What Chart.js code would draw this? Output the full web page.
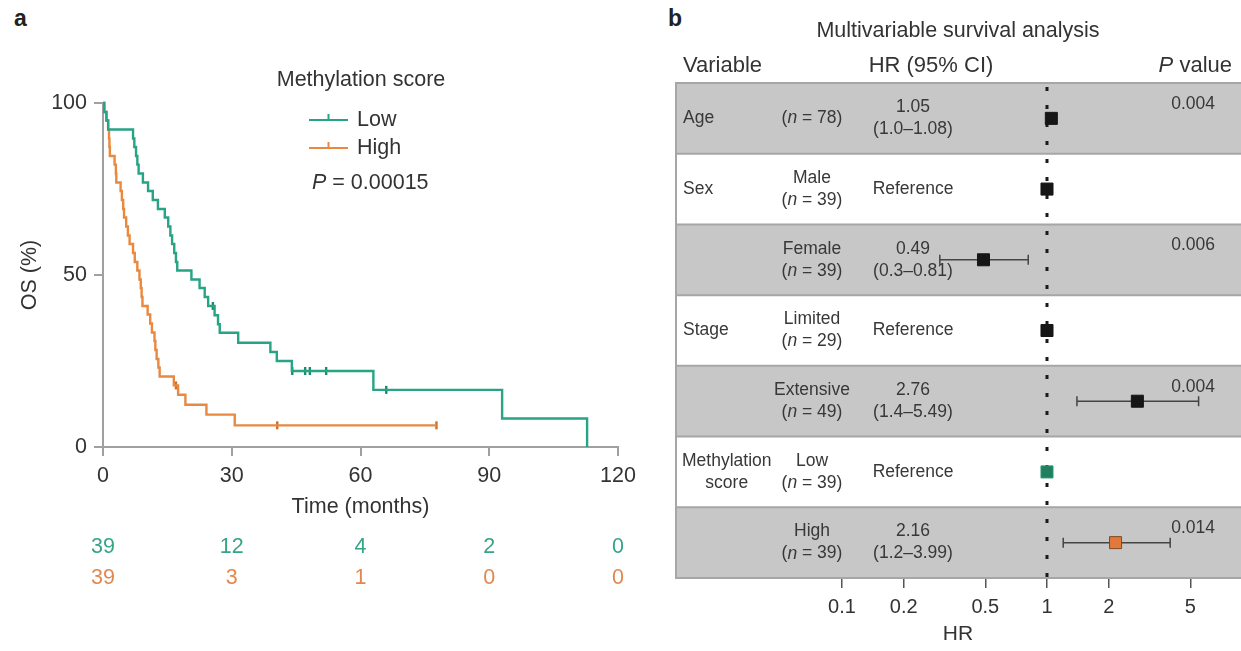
<!DOCTYPE html>
<html>
<head>
<meta charset="utf-8">
<script src="https://cdn.jsdelivr.net/npm/chart.js@4.4.1/dist/chart.umd.min.js"></script>
<style>
  html, body { margin: 0; padding: 0; background: #fff; overflow: hidden; }
  body { width: 1241px; height: 651px; position: relative; font-family: 'Liberation Sans', Arial, sans-serif; }
  .tag { position: absolute; font-weight: bold; font-size: 23px; line-height: 26px; color: #222; }
  #kmChart { position: absolute; left: 0; top: 0; }
  #forestChart { position: absolute; left: 675px; top: 0; }
</style>
</head>
<body>
<div class="tag" style="left:14px; top:5px;">a</div>
<div class="tag" style="left:668px; top:5px;">b</div>
<canvas id="kmChart" width="660" height="651"></canvas>
<canvas id="forestChart" width="566" height="651"></canvas>
<script>
var FONT = "'Liberation Sans', Arial, sans-serif";
var TEXT = '#333333';
var AXIS = '#a0a0a0';
var GREEN = '#27a385';
var ORANGE = '#e8893f';
var FS_A = 21.5;

// panel a: overall survival (%) by time (months)
var lowTimes = [0, 0.3, 0.8, 1.2, 7.0, 7.3, 7.7, 8.0, 8.3, 9.3, 10.5, 11.6, 12.8, 14.4, 15.2, 15.7, 16.1, 16.6, 17.0, 17.3,
  20.6, 22.5, 23.7, 24.5, 26.0, 26.8, 27.2, 31.5, 39.0, 40.5, 44.0, 63.0, 93.0, 112.8];
var lowSurv = [100, 97.4, 94.9, 92.3, 89.7, 87.2, 84.6, 82.1, 79.5, 76.9, 74.4, 71.8, 69.2, 66.7, 64.1, 61.5, 59.0, 56.4, 53.8, 51.3,
  48.7, 46.2, 43.6, 41.0, 38.3, 35.7, 33.2, 30.3, 27.6, 25.0, 22.1, 16.6, 8.3, 0];
var lowCensorTimes = [25.6, 44.1, 47.1, 48.2, 52.0, 66.0];
var lowCensorSurv = [41.0, 22.1, 22.1, 22.1, 22.1, 16.6];

var highTimes = [0, 0.3, 0.8, 1.2, 1.4, 1.5, 1.6, 2.7, 3.0, 3.1, 4.1, 4.4, 4.7, 4.9, 5.4, 5.8, 6.2, 7.0, 7.4, 8.0, 8.5,
  8.8, 9.0, 9.2, 10.4, 11.0, 11.4, 12.0, 12.2, 12.5, 12.9, 13.2, 16.5, 17.5, 19.2, 24.1, 30.7, 77.7];
var highSurv = [100, 97.4, 94.9, 92.3, 89.7, 87.2, 84.6, 82.1, 79.5, 76.9, 74.4, 71.8, 69.2, 66.7, 64.1, 61.5, 59.0, 56.4, 53.8, 51.3, 48.7,
  46.2, 43.6, 41.0, 38.5, 35.9, 33.3, 30.8, 28.2, 25.6, 23.1, 20.5, 17.9, 15.2, 12.3, 9.4, 6.3, 6.3];
var highCensorTimes = [17.0, 40.6, 77.7];
var highCensorSurv = [17.9, 6.3, 6.3];

var riskTimes = [0, 30, 60, 90, 120];
var lowAtRisk = [39, 12, 4, 2, 0];
var highAtRisk = [39, 3, 1, 0, 0];
var kmPValue = '0.00015';

// panel b: multivariable Cox model
var varLabels = ['Age', 'Sex', '', 'Stage', '', 'Methylation\nscore', ''];
var groupLabels = ['', 'Male', 'Female', 'Limited', 'Extensive', 'Low', 'High'];
var groupN = [78, 39, 39, 29, 49, 39, 39];
var hrValues = [1.05, 1, 0.49, 1, 2.76, 1, 2.16];
var ciLow = [1.0, null, 0.3, null, 1.4, null, 1.2];
var ciHigh = [1.08, null, 0.81, null, 5.49, null, 3.99];
var pValues = ['0.004', '', '0.006', '', '0.004', '', '0.014'];
var hrTicks = [0.1, 0.2, 0.5, 1, 2, 5];

var markerFill = ['#161616', '#161616', '#161616', '#161616', '#161616', '#1f7f5e', '#e0793a'];
var markerEdge = ['#161616', '#161616', '#161616', '#161616', '#161616', '#2a9a74', '#7d4a26'];

function pts(xs, ys) {
  return xs.map(function (x, i) { return { x: x, y: ys[i] }; });
}

// text with some italic pieces, e.g. "(n = 39)"
function drawRuns(ctx, runs, x, y, align, size) {
  var total = 0;
  runs.forEach(function (r) {
    ctx.font = (r[1] ? 'italic ' : '') + size + 'px ' + FONT;
    total += ctx.measureText(r[0]).width;
  });
  var cx = align === 'center' ? x - total / 2 : (align === 'right' ? x - total : x);
  ctx.textAlign = 'left';
  runs.forEach(function (r) {
    ctx.font = (r[1] ? 'italic ' : '') + size + 'px ' + FONT;
    ctx.fillText(r[0], cx, y);
    cx += ctx.measureText(r[0]).width;
  });
}

var kmExtras = {
  id: 'kmExtras',
  afterDraw: function (chart) {
    var ctx = chart.ctx, xs = chart.scales.x;
    ctx.save();
    ctx.textBaseline = 'middle';
    ctx.textAlign = 'center';
    ctx.font = FS_A + 'px ' + FONT;
    // numbers at risk
    riskTimes.forEach(function (t, i) {
      var px = xs.getPixelForValue(t);
      ctx.fillStyle = '#35a487';
      ctx.fillText(String(lowAtRisk[i]), px, 547);
      ctx.fillStyle = '#e2884f';
      ctx.fillText(String(highAtRisk[i]), px, 578);
    });
    // legend
    ctx.fillStyle = TEXT;
    ctx.fillText('Methylation score', 361, 80);
    var items = [chart.data.datasets[0], chart.data.datasets[1]];
    items.forEach(function (ds, i) {
      var y = 120 + i * 28;
      ctx.strokeStyle = ds.borderColor;
      ctx.lineWidth = 2;
      ctx.beginPath();
      ctx.moveTo(309, y); ctx.lineTo(348, y);
      ctx.moveTo(328.5, y - 6); ctx.lineTo(328.5, y);
      ctx.stroke();
      ctx.fillStyle = TEXT;
      ctx.textAlign = 'left';
      ctx.font = FS_A + 'px ' + FONT;
      ctx.fillText(ds.label, 357, y);
    });
    ctx.fillStyle = TEXT;
    drawRuns(ctx, [['P', true], [' = ' + kmPValue, false]], 312, 183, 'left', FS_A);
    ctx.restore();
  }
};

new Chart(document.getElementById('kmChart').getContext('2d'), {
  type: 'line',
  data: {
    datasets: [
      { label: 'Low', data: pts(lowTimes, lowSurv), borderColor: GREEN, borderWidth: 2.4, stepped: true, pointRadius: 0, fill: false, clip: false },
      { label: 'High', data: pts(highTimes, highSurv), borderColor: ORANGE, borderWidth: 2.4, stepped: true, pointRadius: 0, fill: false, clip: false },
      { label: 'Low censored', data: pts(lowCensorTimes, lowCensorSurv), showLine: false, pointStyle: 'line', pointRotation: 90,
        pointRadius: 4, pointBorderColor: '#1d8a6b', pointBorderWidth: 2.4, clip: false },
      { label: 'High censored', data: pts(highCensorTimes, highCensorSurv), showLine: false, pointStyle: 'line', pointRotation: 90,
        pointRadius: 4, pointBorderColor: '#c9702f', pointBorderWidth: 2.4, clip: false }
    ]
  },
  options: {
    responsive: false,
    animation: false,
    layout: { padding: { top: 103, right: 42, bottom: 131, left: 0 }, autoPadding: false },
    plugins: { legend: { display: false }, tooltip: { enabled: false } },
    scales: {
      x: {
        type: 'linear', min: 0, max: 120,
        ticks: { stepSize: 30, color: TEXT, font: { family: FONT, size: FS_A }, padding: 7, maxRotation: 0 },
        grid: { drawOnChartArea: false, drawTicks: true, tickLength: 9, color: AXIS, lineWidth: 2 },
        border: { display: true, color: AXIS, width: 2 },
        title: { display: true, text: 'Time (months)', color: TEXT, font: { family: FONT, size: FS_A }, padding: 0 },
        afterFit: function (s) { s.height = 73; }
      },
      y: {
        min: 0, max: 100,
        ticks: { stepSize: 50, color: TEXT, font: { family: FONT, size: FS_A }, padding: 7 },
        grid: { drawOnChartArea: false, drawTicks: true, tickLength: 9, color: AXIS, lineWidth: 2 },
        border: { display: true, color: AXIS, width: 2 },
        title: { display: true, text: 'OS (%)', color: TEXT, font: { family: FONT, size: FS_A }, padding: { top: 17 } },
        afterFit: function (s) { s.width = 103; }
      }
    }
  },
  plugins: [kmExtras]
});

var forestTable = {
  id: 'forestTable',
  beforeDatasetsDraw: function (chart) {
    var ctx = chart.ctx, a = chart.chartArea, xs = chart.scales.x, ys = chart.scales.y;
    var n = hrValues.length, i;
    ctx.save();
    for (i = 0; i < n; i++) {
      var t = ys.getPixelForValue(i), b = ys.getPixelForValue(i + 1);
      ctx.fillStyle = i % 2 === 0 ? '#c7c7c7' : '#ffffff';
      ctx.fillRect(a.left, t, a.right - a.left, b - t);
    }
    ctx.strokeStyle = '#a6a6a6';
    ctx.lineWidth = 2;
    ctx.beginPath();
    for (i = 0; i <= n; i++) {
      var py = ys.getPixelForValue(i);
      ctx.moveTo(a.left, py); ctx.lineTo(a.right, py);
    }
    ctx.moveTo(a.left + 1, a.top); ctx.lineTo(a.left + 1, a.bottom);
    ctx.stroke();

    // HR = 1 reference line
    var x1 = xs.getPixelForValue(1);
    ctx.strokeStyle = '#1a1a1a';
    ctx.lineWidth = 3;
    ctx.setLineDash([4, 14]);
    ctx.beginPath();
    ctx.moveTo(x1, a.top + 4); ctx.lineTo(x1, a.bottom + 12);
    ctx.stroke();
    ctx.setLineDash([]);

    // header
    ctx.fillStyle = TEXT;
    ctx.textBaseline = 'middle';
    ctx.font = '22px ' + FONT;
    ctx.textAlign = 'left';
    ctx.fillText('Variable', a.left + 8, a.top - 17);
    ctx.textAlign = 'center';
    ctx.fillText('HR (95% CI)', a.left + 256, a.top - 17);
    drawRuns(ctx, [['P', true], [' value', false]], a.left + 557, a.top - 17, 'right', 22);

    // rows
    var fs = 17.5;
    ctx.fillStyle = '#383838';
    for (i = 0; i < n; i++) {
      var top = ys.getPixelForValue(i), cy = (top + ys.getPixelForValue(i + 1)) / 2;
      ctx.font = fs + 'px ' + FONT;
      var lines = varLabels[i].split('\n');
      if (lines.length === 1) {
        ctx.textAlign = 'left';
        ctx.fillText(lines[0], a.left + 8, cy);
      } else {
        var w = Math.max.apply(null, lines.map(function (l) { return ctx.measureText(l).width; }));
        ctx.textAlign = 'center';
        ctx.fillText(lines[0], a.left + 7 + w / 2, cy - 11);
        ctx.fillText(lines[1], a.left + 7 + w / 2, cy + 11);
      }
      var gx = a.left + 137;
      var nRuns = [['(', false], ['n', true], [' = ' + groupN[i] + ')', false]];
      if (groupLabels[i]) {
        ctx.textAlign = 'center';
        ctx.fillText(groupLabels[i], gx, cy - 11);
        drawRuns(ctx, nRuns, gx, cy + 11, 'center', fs);
      } else {
        drawRuns(ctx, nRuns, gx, cy, 'center', fs);
      }
      var hx = a.left + 238;
      ctx.font = fs + 'px ' + FONT;
      ctx.textAlign = 'center';
      if (ciLow[i] === null) {
        ctx.fillText('Reference', hx, cy);
      } else {
        var f = function (v) { return Number.isInteger(v) ? v.toFixed(1) : String(v); };
        ctx.fillText(String(hrValues[i]), hx, cy - 11);
        ctx.fillText('(' + f(ciLow[i]) + '\u2013' + f(ciHigh[i]) + ')', hx, cy + 11);
      }
      if (pValues[i]) {
        ctx.textAlign = 'right';
        ctx.fillText(pValues[i], a.left + 540, top + 21);
      }
    }
    ctx.restore();
  }
};

var forestSets = [{
  label: 'HR',
  data: hrValues.map(function (v, i) { return { x: v, y: i + 0.5 }; }),
  pointStyle: 'rect',
  pointRadius: 8.5,
  pointBackgroundColor: markerFill,
  pointBorderColor: markerEdge,
  pointBorderWidth: 1
}];
hrValues.forEach(function (v, i) {
  if (ciLow[i] === null) return;
  forestSets.push({
    label: 'CI ' + i,
    data: [{ x: ciLow[i], y: i + 0.5 }, { x: ciHigh[i], y: i + 0.5 }],
    showLine: true,
    borderColor: '#444444',
    borderWidth: 1.5,
    pointStyle: 'line',
    pointRotation: 90,
    pointRadius: 5,
    pointBorderColor: '#444444',
    pointBorderWidth: 1.5
  });
});

new Chart(document.getElementById('forestChart').getContext('2d'), {
  type: 'scatter',
  data: { datasets: forestSets },
  options: {
    responsive: false,
    animation: false,
    layout: { padding: 0, autoPadding: false },
    plugins: {
      legend: { display: false },
      tooltip: { enabled: false },
      title: {
        display: true, text: 'Multivariable survival analysis', color: TEXT,
        font: { family: FONT, size: 21.5, weight: 'normal' }, padding: { top: 18, bottom: 39.2 }
      }
    },
    scales: {
      x: {
        type: 'logarithmic', min: 0.01532, max: 8.84,
        afterBuildTicks: function (s) { s.ticks = hrTicks.map(function (v) { return { value: v }; }); },
        ticks: { callback: function (v) { return String(v); }, color: TEXT, font: { family: FONT, size: 20 }, padding: 7, maxRotation: 0, autoSkip: false },
        grid: { drawOnChartArea: false, drawTicks: true, tickLength: 10, color: '#555555', lineWidth: 1.5 },
        border: { display: false },
        title: { display: true, text: 'HR', color: TEXT, font: { family: FONT, size: 21 }, padding: { bottom: 4 } },
        afterFit: function (s) { s.height = 73; s.paddingLeft = 0; s.paddingRight = 0; }
      },
      y: { type: 'linear', min: 0, max: 7, reverse: true, display: false }
    }
  },
  plugins: [forestTable]
});
</script>
</body>
</html>
